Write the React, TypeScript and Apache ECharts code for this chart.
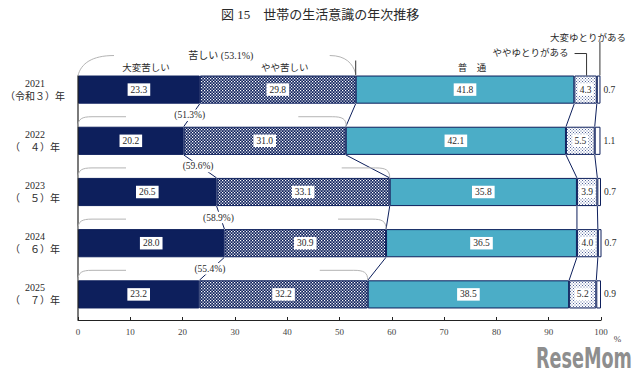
import React, { useEffect, useRef } from 'react';
import * as echarts from 'echarts';

const YEARS = ['2021\n（令和３）年', '2022\n（　４）年', '2023\n（　５）年', '2024\n（　６）年', '2025\n（　７）年'];
const VERY_HARD = [23.3, 20.2, 26.5, 28.0, 23.2];
const SOMEWHAT_HARD = [29.8, 31.0, 33.1, 30.9, 32.2];
const NORMAL = [41.8, 42.1, 35.8, 36.5, 38.5];
const SOMEWHAT_EASY = [4.3, 5.5, 3.9, 4.0, 5.2];
const VERY_EASY = [0.7, 1.1, 0.7, 0.7, 0.9];
const HARD_TOTAL = [53.1, 51.3, 59.6, 58.9, 55.4];
const SERIES_NAMES = ['大変苦しい', 'やや苦しい', '普　通', 'ややゆとりがある', '大変ゆとりがある'];
const HARD_LABEL = '苦しい';
const TITLE = '図 15　世帯の生活意識の年次推移';

const NAVY = '#0d1f5c';
const TEAL = '#4badc7';
const GRAY = '#b4b4b4';
const TXT = '#2a2a2a';
const SERIF = "'Liberation Serif', 'Noto Sans CJK JP', serif";
const BAR_RATIO = 0.55;

function cum(i: number): number[] {
  const a = VERY_HARD[i];
  const b = a + SOMEWHAT_HARD[i];
  const c = b + NORMAL[i];
  const d = c + SOMEWHAT_EASY[i];
  return [a, b, c, d];
}

function makeTile(bg: string, fg: string, cells: number[][], size: number): HTMLCanvasElement {
  const cv = document.createElement('canvas');
  cv.width = size;
  cv.height = size;
  const ctx = cv.getContext('2d')!;
  ctx.fillStyle = bg;
  ctx.fillRect(0, 0, size, size);
  ctx.fillStyle = fg;
  cells.forEach(([x, y, w, h]) => ctx.fillRect(x, y, w, h));
  return cv;
}

export default function App() {
  const ref = useRef<HTMLDivElement>(null);
  useEffect(() => {
    if (!ref.current) return;
    const chart = echarts.init(ref.current, null, { renderer: 'svg' });
    const n = YEARS.length;

    const checkerTile = makeTile(NAVY, '#ffffff', [[0, 0, 5, 5], [6, 6, 5, 5]], 12);
    const dotTile = makeTile('#ffffff', '#56679c', [[0, 0, 2, 2], [3, 3, 2, 2]], 6);
    const checker = { image: checkerTile, repeat: 'repeat', scaleX: 0.25, scaleY: 0.25 };
    const dots = { image: dotTile, repeat: 'repeat', scaleX: 0.5, scaleY: 0.5 };

    const baseLabel = {
      show: true,
      position: 'inside',
      formatter: (p: any) => Number(p.value).toFixed(1),
      backgroundColor: '#fff',
      padding: [2, 3, 1, 3],
      color: TXT,
      fontSize: 9.5,
      fontFamily: SERIF,
    };
    const border = { borderColor: NAVY, borderWidth: 1 };

    const renderItem = (params: any, api: any) => {
      const i = params.dataIndex;
      const band = api.size([0, 1])[1];
      const half = (band * BAR_RATIO) / 2;
      const yc = (k: number) => api.coord([0, k])[1];
      const xv = (v: number, k: number) => api.coord([v, k])[0];
      const children: any[] = [];
      const navyLine = { stroke: NAVY, lineWidth: 1 };
      const grayLine = { stroke: GRAY, lineWidth: 1, fill: null };
      const txt = (text: string, x: number, y: number, align: string, extra: any = {}) => ({
        type: 'text',
        style: {
          text, x, y, align, verticalAlign: 'middle', fill: TXT,
          fontSize: 10, fontFamily: SERIF, ...extra,
        },
        z2: 20,
      });

      const ci = cum(i);

      // connectors to next bar
      if (i < n - 1) {
        const c0 = ci;
        const c1 = cum(i + 1);
        const y0 = yc(i) + half;
        const y1 = yc(i + 1) - half;
        for (let k = 0; k < 4; k++) {
          children.push({
            type: 'line',
            shape: { x1: xv(c0[k], i), y1: y0, x2: xv(c1[k], i + 1), y2: y1 },
            style: navyLine,
          });
        }
        const mx = (xv(c0[0], i) + xv(c1[0], i + 1)) / 2 - 2;
        const my = (y0 + y1) / 2;
        children.push(txt('(' + HARD_TOTAL[i + 1].toFixed(1) + '%)', mx, my, 'center', {
          backgroundColor: '#fff', padding: [1, 1, 1, 1], fontSize: 9.5,
        }));
      }

      const yb = yc(i) - half;
      const x0 = xv(0, i);
      const xh = xv(HARD_TOTAL[i], i);
      if (i > 0) {
        const yt = yb - 10;
        children.push({
          type: 'bezierCurve',
          shape: { x1: x0, y1: yb, cpx1: x0, cpy1: yt + 2, cpx2: x0 + 4, cpy2: yt, x2: x0 + 14, y2: yt },
          style: grayLine,
        });
        children.push({ type: 'line', shape: { x1: x0 + 14, y1: yt, x2: x0 + 48, y2: yt }, style: grayLine });
        children.push({
          type: 'bezierCurve',
          shape: { x1: xh, y1: yb, cpx1: xh, cpy1: yt + 2, cpx2: xh - 4, cpy2: yt, x2: xh - 14, y2: yt },
          style: grayLine,
        });
        children.push({ type: 'line', shape: { x1: xh - 14, y1: yt, x2: xh - 48, y2: yt }, style: grayLine });
      } else {
        const c = ci;
        const yt = yb - 20;
        // top bracket
        children.push({
          type: 'bezierCurve',
          shape: { x1: x0, y1: yb, cpx1: x0 + 3, cpy1: yt + 8, cpx2: x0 + 14, cpy2: yt, x2: x0 + 36, y2: yt },
          style: grayLine,
        });
        children.push({
          type: 'bezierCurve',
          shape: { x1: xh, y1: yb - 2, cpx1: xh - 3, cpy1: yt + 8, cpx2: xh - 10, cpy2: yt, x2: xh - 26, y2: yt },
          style: grayLine,
        });
        children.push(txt(HARD_LABEL + ' (' + HARD_TOTAL[0].toFixed(1) + '%)', (x0 + xh) / 2 + 4, yt, 'center'));
        // separator
        children.push({ type: 'line', shape: { x1: xh, y1: yb - 15, x2: xh, y2: yb }, style: { stroke: '#333', lineWidth: 1 } });
        // segment names
        const centers = [c[0] / 2, (c[0] + c[1]) / 2, (c[1] + c[2]) / 2];
        for (let k = 0; k < 3; k++) {
          children.push(txt(SERIES_NAMES[k], xv(centers[k], 0) + 7, yb - 8, 'center', { fontSize: 9.5 }));
        }
        // ややゆとり annotation
        const xe = xv((c[2] + c[3]) / 2, 0) + 1;
        children.push({
          type: 'polyline',
          shape: { points: [[xe - 12, yb - 22], [xe, yb - 22], [xe, yb]] },
          style: { stroke: '#333', lineWidth: 1, fill: null },
        });
        children.push(txt(SERIES_NAMES[3], xe - 18, yb - 23, 'right', { fontSize: 9.5 }));
        // 大変ゆとり annotation
        const xv2 = xv((c[3] + 100) / 2, 0) + 1;
        children.push({ type: 'line', shape: { x1: xv2, y1: yb - 34, x2: xv2, y2: yb }, style: { stroke: '#333', lineWidth: 1 } });
        children.push(txt(SERIES_NAMES[4], xv2 + 26, yb - 38, 'right', { fontSize: 9.5 }));
        // left axis line
        const bottom = yc(n - 1) + band / 2;
        children.push({ type: 'line', shape: { x1: x0, y1: yb, x2: x0, y2: bottom }, style: { stroke: '#222', lineWidth: 1.2 } });
      }
      return { type: 'group', children };
    };

    const option: any = {
      animation: false,
      backgroundColor: '#fff',
      title: {
        text: TITLE,
        left: 'center',
        top: 3,
        textStyle: { fontSize: 13, fontWeight: 'normal', color: TXT, fontFamily: SERIF },
      },
      grid: { left: 78, right: 39, top: 64, bottom: 62 },
      xAxis: {
        type: 'value',
        min: 0,
        max: 100,
        interval: 10,
        splitLine: { show: false },
        axisLine: { show: true, lineStyle: { color: '#222', width: 1.2 } },
        axisTick: { show: true, inside: true, length: 3, lineStyle: { color: '#222' } },
        axisLabel: { color: '#444', fontSize: 9, fontFamily: SERIF, margin: 7 },
        name: '%',
        nameLocation: 'end',
        nameGap: 6,
        nameTextStyle: { color: '#444', fontSize: 9, fontFamily: SERIF, verticalAlign: 'top', padding: [14, 0, 0, 0] },
      },
      yAxis: {
        type: 'category',
        data: YEARS,
        inverse: true,
        axisLine: { show: false },
        axisTick: { show: false },
        axisLabel: {
          color: TXT, fontSize: 10, fontFamily: SERIF, align: 'center', margin: 43, lineHeight: 13,
        },
      },
      series: [
        {
          name: SERIES_NAMES[0], type: 'bar', stack: 'all', barWidth: BAR_RATIO * 100 + '%',
          data: VERY_HARD,
          itemStyle: { color: NAVY, ...border },
          label: baseLabel,
        },
        {
          name: SERIES_NAMES[1], type: 'bar', stack: 'all',
          data: SOMEWHAT_HARD,
          itemStyle: { color: checker, ...border },
          label: baseLabel,
        },
        {
          name: SERIES_NAMES[2], type: 'bar', stack: 'all',
          data: NORMAL,
          itemStyle: { color: TEAL, ...border },
          label: baseLabel,
        },
        {
          name: SERIES_NAMES[3], type: 'bar', stack: 'all',
          data: SOMEWHAT_EASY,
          itemStyle: { color: dots, ...border },
          label: { ...baseLabel, padding: [2, 2, 1, 2] },
        },
        {
          name: SERIES_NAMES[4], type: 'bar', stack: 'all',
          data: VERY_EASY,
          itemStyle: { color: '#ffffff', ...border },
          label: { ...baseLabel, position: 'right', distance: 3, backgroundColor: 'transparent', padding: 0 },
        },
        {
          type: 'custom',
          silent: true,
          clip: false,
          z: 5,
          data: YEARS.map((_, i) => [0, i]),
          encode: { x: 0, y: 1 },
          renderItem,
        },
      ],
      graphic: [
        {
          type: 'text',
          x: 632,
          y: 373,
          scaleX: 0.7,
          style: {
            text: 'ReseMom',
            align: 'right',
            verticalAlign: 'bottom',
            fill: '#8e8e8e',
            fontSize: 28,
            fontWeight: 'bold',
            fontFamily: "'DejaVu Sans Condensed', 'DejaVu Sans', sans-serif",
          },
        },
      ],
    };
    chart.setOption(option);
    return () => chart.dispose();
  }, []);
  return <div ref={ref} style={{ position: 'fixed', left: 0, top: 0, width: 640, height: 382 }} />;
}
